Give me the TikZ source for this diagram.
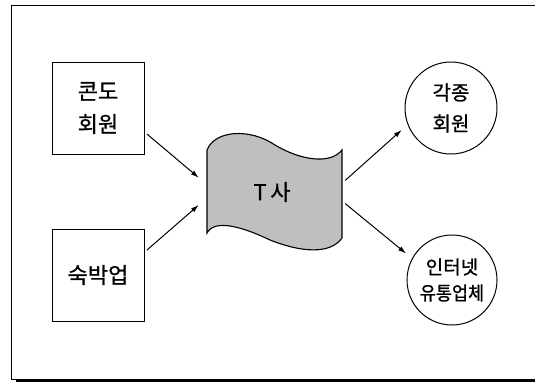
\documentclass[tikz,border=0pt]{standalone}
\usepackage{fontspec}
\setmainfont{Noto Sans CJK KR}[FakeBold=1]
\usetikzlibrary{arrows.meta}

\tikzset{
  box/.style={draw, line width=1pt, minimum width=92pt, minimum height=92pt, inner sep=0pt,
    outer sep=3pt, align=center, font=\fontsize{22}{33}\selectfont},
  club/.style={draw, line width=1pt, circle, minimum size=92pt, inner sep=0pt,
    outer sep=8pt, align=center, font=\fontsize{20}{31}\selectfont},
  link/.style={line width=1pt, -{Latex[length=8pt,width=5pt]}}
}

\begin{document}
\begin{tikzpicture}[x=1pt,y=-1pt]
\useasboundingbox (0,0) rectangle (535,383);
\draw[line width=0.9pt] (11,5) rectangle (540,379);
\draw[line width=3pt] (16,380.5) -- (540,380.5);

\draw[line width=1.1pt, fill=black!25] (207,150) .. controls (215,130) and (250,128) .. (275,145)
  .. controls (300,160) and (330,165) .. (342,150) -- (342,238)
  .. controls (330,255) and (300,252) .. (270,240)
  .. controls (245,228) and (215,218) .. (207,233) -- cycle;

\node[box] (condo) at (98,108) {콘도\\회원};
\node[box] (lodging) at (98,275) {숙박업};
\node[inner sep=0pt, minimum width=146pt, minimum height=90pt,
  font=\fontsize{22}{26}\selectfont] (tsa) at (272,192) {T\,사};
\node[club] (members) at (451,108) {각종\\회원};
\node[club, minimum size=90pt, font=\fontsize{19}{26}\selectfont] (online) at (452,280)
  {인터넷\\\scalebox{0.92}[1]{유통업체}};

\draw[link] (condo.-28) -- (tsa.169);
\draw[link] (lodging.27) -- (tsa.190);
\draw[link] (tsa.9) -- (members.204);
\draw[link] (tsa.-9) -- (online.150);

\end{tikzpicture}
\end{document}
